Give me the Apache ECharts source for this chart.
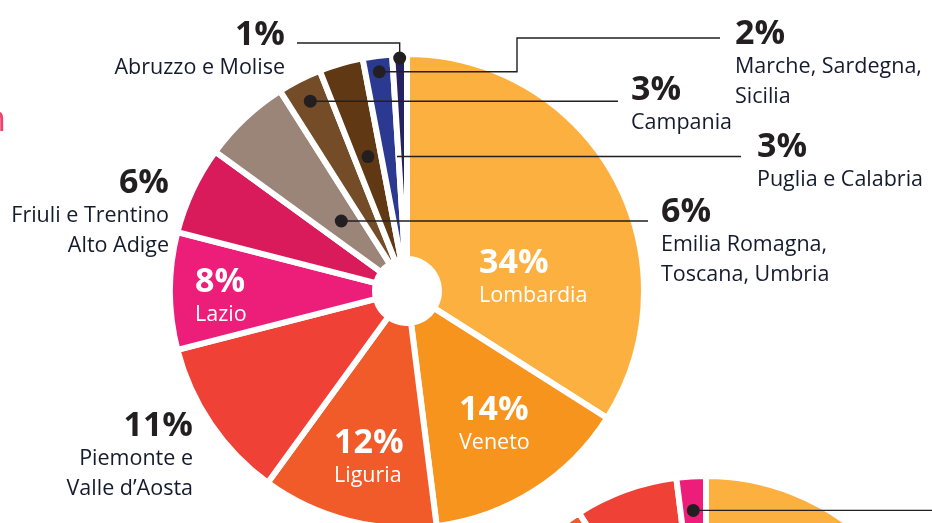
<!doctype html>
<html>
<head>
    <meta charset="utf-8">
    <title>Distribuzione per regione</title>
    <style>
        html, body {
            margin: 0;
            padding: 0;
            background: #fff;
        }
        #chart {
            width: 932px;
            height: 523px;
        }
    </style>
</head>
<body>
<div id="chart"></div>
<script src="https://cdn.jsdelivr.net/npm/echarts@6/dist/echarts.min.js"></script>
<script>
    // dati
    var regioni = ['Lombardia', 'Veneto', 'Liguria', 'Piemonte e\nValle d’Aosta', 'Lazio',
        'Friuli e Trentino\nAlto Adige', 'Emilia Romagna,\nToscana, Umbria', 'Campania',
        'Puglia e Calabria', 'Marche, Sardegna,\nSicilia', 'Abruzzo e Molise'];
    var quote = [34, 14, 12, 11, 8, 6, 6, 3, 3, 2, 1];

    // seconda torta, se ne vede solo il bordo in alto
    var regioni2 = ['Lombardia', 'Veneto', 'Liguria', 'Piemonte e Valle d’Aosta', 'Lazio'];
    var quote2 = [55, 24, 12, 7, 2];

    var colori = ['#fbb040', '#f7941d', '#f15a29', '#ef4136', '#ec1e79', '#d91b5c',
        '#9b8579', '#754c28', '#603813', '#2b3990', '#262262'];

    // fette con l'etichetta bianca all'interno
    var interne = [0, 1, 2, 4];

    // posizione etichette: x, y (alto), allineamento
    var posEtichette = [
        [479, 245, 'left'],
        [459, 392, 'left'],
        [334, 425, 'left'],
        [193, 408, 'right'],
        [195, 264, 'left'],
        [169, 165, 'right'],
        [661, 194, 'left'],
        [631, 72, 'left'],
        [757, 129, 'left'],
        [735, 16, 'left'],
        [285, 17, 'right']
    ];

    // richiami con pallino: serie, fetta, raggio del pallino, percorso (null = come il pallino)
    var richiami = [
        {serie: 0, idx: 10, r: 233, via: [[null, 43], [297, 43]]},
        {serie: 0, idx: 9, r: 221, via: [[517, null], [517, 38], [720, 38]]},
        {serie: 0, idx: 7, r: 213, via: [[618, null]]},
        {serie: 0, idx: 8, r: 140, da: 397, via: [[741, null]]},
        {serie: 0, idx: 6, r: 96, via: [[648, null]]},
        {serie: 1, idx: 4, r: 203, via: [[940, null]]}
    ];

    var font = '"Open Sans", "Noto Sans", sans-serif';
    var scuro = '#231f20';

    var chart = echarts.init(document.getElementById('chart'));

    var dati = regioni.map(function (n, i) {
        return {name: n, value: quote[i], itemStyle: {color: colori[i]}};
    });
    var dati2 = regioni2.map(function (n, i) {
        return {name: n, value: quote2[i], itemStyle: {color: colori[i]}};
    });

    var option = {
        animation: false,
        graphic: [],
        series: [{
            type: 'pie',
            center: [407, 291],
            radius: [32, 237],
            startAngle: 90,
            clockwise: true,
            avoidLabelOverlap: false,
            silent: true,
            itemStyle: {borderColor: '#fff', borderWidth: 6},
            label: {
                show: true,
                position: 'inside',
                formatter: function (p) {
                    var dentro = interne.indexOf(p.dataIndex) >= 0;
                    var s = dentro ? 'w' : 'd';
                    return '{p' + s + '|' + p.value + '%}\n{n' + s + '|' + p.name + '}';
                },
                rich: {
                    pd: {fontFamily: font, fontSize: 34, fontWeight: 'bold', color: scuro, lineHeight: 36},
                    nd: {fontFamily: font, fontSize: 21.5, color: '#141b2d', lineHeight: 30},
                    pw: {fontFamily: font, fontSize: 34, fontWeight: 'bold', color: '#fff', lineHeight: 36},
                    nw: {fontFamily: font, fontSize: 21.5, color: '#fff', lineHeight: 30}
                }
            },
            labelLine: {show: false},
            labelLayout: function (p) {
                var q = posEtichette[p.dataIndex];
                return {x: q[0], y: q[1], align: q[2], verticalAlign: 'top'};
            },
            data: dati
        }, {
            type: 'pie',
            center: [706, 713],
            radius: [32, 237],
            startAngle: 90,
            clockwise: true,
            silent: true,
            itemStyle: {borderColor: '#fff', borderWidth: 6},
            label: {show: false},
            labelLine: {show: false},
            data: dati2
        }]
    };
    chart.setOption(option);

    // pallini e linee dei richiami, dalla geometria delle fette
    function disegnaRichiami() {
        var els = [];
        richiami.forEach(function (c) {
            var l = chart.getModel().getSeriesByIndex(c.serie).getData().getItemLayout(c.idx);
            var a = (l.startAngle + l.endAngle) / 2;
            var p = [l.cx + c.r * Math.cos(a), l.cy + c.r * Math.sin(a)];
            var pts = [c.da != null ? [c.da, p[1]] : p];
            c.via.forEach(function (v) {
                pts.push([v[0] == null ? p[0] : v[0], v[1] == null ? p[1] : v[1]]);
            });
            els.push({type: 'polyline', z: 50, shape: {points: pts},
                style: {stroke: scuro, lineWidth: 1.4, fill: null}});
            els.push({type: 'circle', z: 51, shape: {cx: p[0], cy: p[1], r: 6.5},
                style: {fill: scuro}});
        });
        // resto del titolo tagliato a sinistra
        els.push({type: 'text', z: 50, x: 6, y: 121,
            style: {text: 'n', font: 'normal 36px ' + font, fill: '#f0426e', align: 'right', verticalAlign: 'middle'}});
        chart.setOption({graphic: els});
    }
    disegnaRichiami();
</script>
</body>
</html>
